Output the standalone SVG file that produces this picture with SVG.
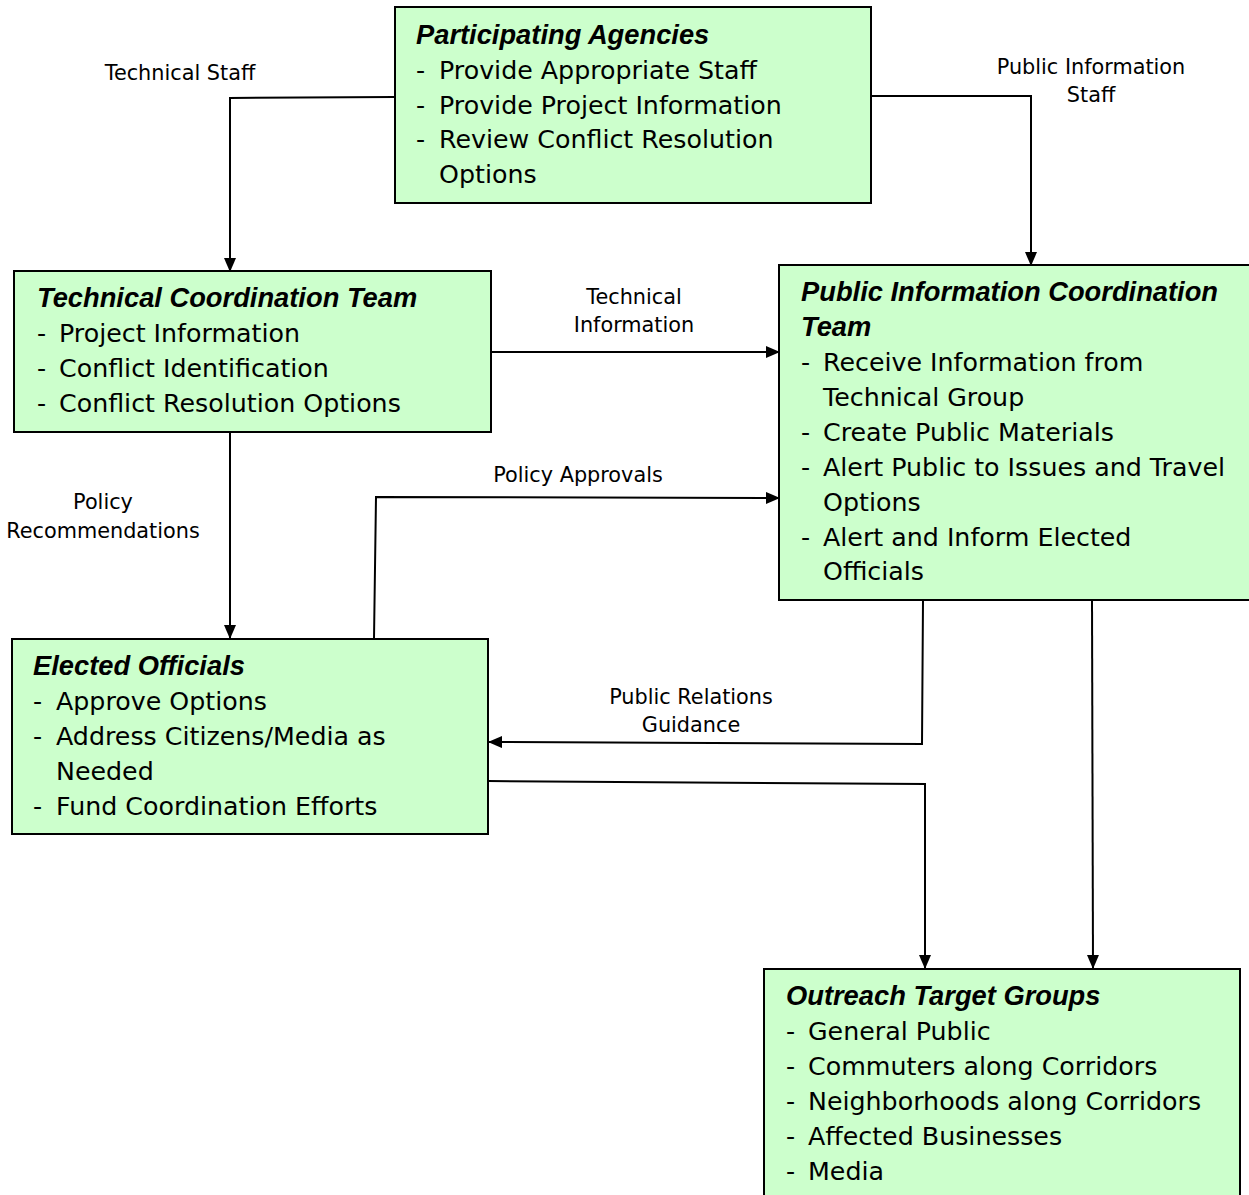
<svg xmlns="http://www.w3.org/2000/svg" width="1249" height="1195" viewBox="0 0 1249 1195">
<defs>
<marker id="arr" markerWidth="14" markerHeight="12" refX="13" refY="6" orient="auto" markerUnits="userSpaceOnUse">
<path d="M0,0 L14,6 L0,12 z" fill="#000"/>
</marker>
<style>
.box{fill:#CCFFCC;stroke:#000;stroke-width:2}
.t{font-family:"DejaVu Sans",Verdana,sans-serif;font-size:25.3px;fill:#000}
.h{font-family:"Liberation Sans",Arial,sans-serif;font-size:27.3px;font-weight:bold;font-style:italic}
.lbl{font-family:"DejaVu Sans",Verdana,sans-serif;font-size:20.8px;fill:#000;text-anchor:middle}
.c{fill:none;stroke:#000;stroke-width:2;marker-end:url(#arr)}
</style>
</defs>
<rect width="1249" height="1195" fill="#fff"/>
<g id="connectors">
<polyline class="c" points="395,97 230,98 230,271"/>
<polyline class="c" points="871,96 1031,96 1031,265"/>
<polyline class="c" points="491,352 779,352"/>
<polyline class="c" points="230,432 230,638"/>
<polyline class="c" points="374,639 376,497 779,498"/>
<polyline class="c" points="923,600 922,744 489,742"/>
<polyline class="c" points="488,781 925,784 925,968"/>
<polyline class="c" points="1092,600 1093,968"/>
<text class="lbl" x="180" y="80">Technical Staff</text>
<text class="lbl" x="1091" y="74">Public Information</text>
<text class="lbl" x="1091" y="102">Staff</text>
<text class="lbl" x="634" y="304">Technical</text>
<text class="lbl" x="634" y="332">Information</text>
<text class="lbl" x="103" y="509">Policy</text>
<text class="lbl" x="103" y="538">Recommendations</text>
<text class="lbl" x="578" y="482">Policy Approvals</text>
<text class="lbl" x="691" y="704">Public Relations</text>
<text class="lbl" x="691" y="732">Guidance</text>
</g>
<g id="participating">
<rect class="box" x="395" y="7" width="476" height="196"/>
<text class="t h" x="416" y="44">Participating Agencies</text>
<text class="t" x="416" y="79">-</text><text class="t" x="439" y="79">Provide Appropriate Staff</text>
<text class="t" x="416" y="114">-</text><text class="t" x="439" y="114">Provide Project Information</text>
<text class="t" x="416" y="148">-</text><text class="t" x="439" y="148">Review Conflict Resolution</text>
<text class="t" x="439" y="183">Options</text>
</g>
<g id="technical">
<rect class="box" x="14" y="271" width="477" height="161"/>
<text class="t h" x="37" y="307">Technical Coordination Team</text>
<text class="t" x="37" y="342">-</text><text class="t" x="59" y="342">Project Information</text>
<text class="t" x="37" y="377">-</text><text class="t" x="59" y="377">Conflict Identification</text>
<text class="t" x="37" y="412">-</text><text class="t" x="59" y="412">Conflict Resolution Options</text>
</g>
<g id="public-info">
<rect class="box" x="779" y="265" width="475" height="335"/>
<text class="t h" x="801" y="301">Public Information Coordination</text>
<text class="t h" x="801" y="336">Team</text>
<text class="t" x="801" y="371">-</text><text class="t" x="823" y="371">Receive Information from</text>
<text class="t" x="823" y="406">Technical Group</text>
<text class="t" x="801" y="441">-</text><text class="t" x="823" y="441">Create Public Materials</text>
<text class="t" x="801" y="476">-</text><text class="t" x="823" y="476">Alert Public to Issues and Travel</text>
<text class="t" x="823" y="511">Options</text>
<text class="t" x="801" y="546">-</text><text class="t" x="823" y="546">Alert and Inform Elected</text>
<text class="t" x="823" y="580">Officials</text>
</g>
<g id="elected">
<rect class="box" x="12" y="639" width="476" height="195"/>
<text class="t h" x="33" y="675">Elected Officials</text>
<text class="t" x="33" y="710">-</text><text class="t" x="56" y="710">Approve Options</text>
<text class="t" x="33" y="745">-</text><text class="t" x="56" y="745">Address Citizens/Media as</text>
<text class="t" x="56" y="780">Needed</text>
<text class="t" x="33" y="815">-</text><text class="t" x="56" y="815">Fund Coordination Efforts</text>
</g>
<g id="outreach">
<rect class="box" x="764" y="969" width="476" height="236"/>
<text class="t h" x="786" y="1005">Outreach Target Groups</text>
<text class="t" x="786" y="1040">-</text><text class="t" x="808" y="1040">General Public</text>
<text class="t" x="786" y="1075">-</text><text class="t" x="808" y="1075">Commuters along Corridors</text>
<text class="t" x="786" y="1110">-</text><text class="t" x="808" y="1110">Neighborhoods along Corridors</text>
<text class="t" x="786" y="1145">-</text><text class="t" x="808" y="1145">Affected Businesses</text>
<text class="t" x="786" y="1180">-</text><text class="t" x="808" y="1180">Media</text>
</g>
</svg>
